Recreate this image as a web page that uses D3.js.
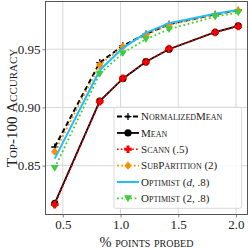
<!DOCTYPE html>
<html><head><meta charset="utf-8">
<script src="https://cdn.jsdelivr.net/npm/d3@7"></script>
<style>
html,body{margin:0;padding:0;background:#fff;}
svg{display:block;}
text{font-family:"Liberation Serif","DejaVu Serif",serif;fill:#222;}
</style></head>
<body>
<svg id="c" width="249" height="249"></svg>
<script>
const xValues = [0.43, 0.82, 1.02, 1.22, 1.42, 1.82, 2.02];
const normalizedMean = [0.866, 0.9385, 0.953, 0.963, 0.9715, 0.980, 0.9835];
const mean = [0.8175, 0.9055, 0.9247, 0.9393, 0.950, 0.9646, 0.970];
const scann = [0.8165, 0.905, 0.925, 0.939, 0.9505, 0.9645, 0.9695];
const subPartition = [0.862, 0.9365, 0.9522, 0.9623, 0.9709, 0.9795, 0.9832];
const optimistD = [0.856, 0.932, 0.951, 0.964, 0.9724, 0.9804, 0.9838];
const optimist2 = [0.848, 0.929, 0.9466, 0.9586, 0.9672, 0.978, 0.9815];
const xTicks = [0.5, 1.0, 1.5, 2.0];
const yTicks = [0.85, 0.90, 0.95];
const seriesNames = ["NormalizedMean", "Mean", "Scann (.5)", "SubPartition (2)", "Optimist (d, .8)", "Optimist (2, .8)"];

const svg = d3.select("#c");
const L = 45.5, R = 247.5, T = 1.5, B = 214.5;
const x = d3.scaleLinear().domain([0.35, 2.10]).range([L, R]);
const y = d3.scaleLinear().domain([0.808, 0.991]).range([B, T]);

// grid
svg.append("g").selectAll("line").data(xTicks).join("line")
  .attr("x1", d => x(d)).attr("x2", d => x(d)).attr("y1", T).attr("y2", B)
  .attr("stroke", "#d8d8d8").attr("stroke-width", 1);
svg.append("g").selectAll("line").data(yTicks).join("line")
  .attr("y1", d => y(d)).attr("y2", d => y(d)).attr("x1", L).attr("x2", R)
  .attr("stroke", "#d8d8d8").attr("stroke-width", 1);

// axes
const xAxis = d3.axisBottom(x).tickValues(xTicks).tickFormat(d3.format(".1f")).tickSize(3).tickPadding(2);
const yAxis = d3.axisLeft(y).tickValues(yTicks).tickFormat(d3.format(".2f")).tickSize(3).tickPadding(2);
const gx = svg.append("g").attr("transform", `translate(0,${B})`).call(xAxis);
const gy = svg.append("g").attr("transform", `translate(${L},0)`).call(yAxis);
[gx, gy].forEach(g => {
  g.select(".domain").remove();
  g.selectAll(".tick line").attr("stroke", "#666").attr("stroke-width", 0.8);
  g.selectAll(".tick text").attr("font-family", "Liberation Serif").attr("font-size", 13).attr("fill", "#222");
});
gx.selectAll(".tick text").attr("dy", "0.72em");

// spines
svg.append("rect").attr("x", L).attr("y", T).attr("width", R - L).attr("height", B - T)
  .attr("fill", "none").attr("stroke", "#555").attr("stroke-width", 1);

// series
const line = d3.line().x((d, i) => x(xValues[i])).y(d => y(d));
const series = [
  {name: seriesNames[0], data: normalizedMean, color: "#000", width: 2, dash: "5,3", marker: "plus"},
  {name: seriesNames[1], data: mean, color: "#000", width: 1.8, dash: null, marker: "circle"},
  {name: seriesNames[2], data: scann, color: "#ff0000", width: 1.6, dash: "1.6,2.2", marker: "P"},
  {name: seriesNames[3], data: subPartition, color: "#ff8c00", width: 1.8, dash: "1.8,2.4", marker: "diamond"},
  {name: seriesNames[4], data: optimistD, color: "#1ebfff", width: 2, dash: null, marker: null},
  {name: seriesNames[5], data: optimist2, color: "#3ccc3c", width: 1.8, dash: "1.8,2.6", marker: "tri"}
];

function drawMarker(g, type, cx, cy, color) {
  if (type === "circle") {
    g.append("circle").attr("cx", cx).attr("cy", cy).attr("r", 3.6).attr("fill", color);
  } else if (type === "P") {
    const a = 3.8, w = 1.5;
    g.append("path").attr("d",
      `M${cx-w},${cy-a}H${cx+w}V${cy-w}H${cx+a}V${cy+w}H${cx+w}V${cy+a}H${cx-w}V${cy+w}H${cx-a}V${cy-w}H${cx-w}Z`)
      .attr("fill", color);
  } else if (type === "plus") {
    const a = 3.5;
    g.append("path").attr("d", `M${cx-a},${cy}H${cx+a}M${cx},${cy-a}V${cy+a}`)
      .attr("stroke", color).attr("stroke-width", 1.3);
  } else if (type === "diamond") {
    const a = 4.2;
    g.append("path").attr("d", `M${cx},${cy-a}L${cx+a*0.85},${cy}L${cx},${cy+a}L${cx-a*0.85},${cy}Z`).attr("fill", color);
  } else if (type === "tri") {
    const a = 4;
    g.append("path").attr("d", `M${cx-a},${cy-a*0.75}L${cx+a},${cy-a*0.75}L${cx},${cy+a*0.95}Z`).attr("fill", color);
  }
}

series.forEach(s => {
  const g = svg.append("g");
  g.append("path").datum(s.data).attr("d", line).attr("fill", "none")
    .attr("stroke", s.color).attr("stroke-width", s.width)
    .attr("stroke-dasharray", s.dash);
  if (s.marker) s.data.forEach((v, i) => drawMarker(g, s.marker, x(xValues[i]), y(v), s.color));
});

// legend
const lg = svg.append("g");
lg.append("rect").attr("x", 114).attr("y", 107.3).attr("width", 127.7).attr("height", 101)
  .attr("rx", 2).attr("fill", "#fff").attr("fill-opacity", 0.85).attr("stroke", "#d0d0d0").attr("stroke-width", 0.8);
const labelParts = [
  [["N",0],["ormalized",1],["M",0],["ean",1]],
  [["M",0],["ean",1]],
  [["S",0],["cann",1],[" (.5)",0]],
  [["S",0],["ub",1],["P",0],["artition",1],[" (2)",0]],
  [["O",0],["ptimist",1],[" (",0],["d",2],[", .8)",0]],
  [["O",0],["ptimist",1],[" (2, .8)",0]]
];
series.forEach((s, i) => {
  const cy = 116.6 + i * 16.35;
  lg.append("line").attr("x1", 117).attr("x2", 139).attr("y1", cy).attr("y2", cy)
    .attr("stroke", s.color).attr("stroke-width", s.width).attr("stroke-dasharray", s.dash);
  if (s.marker) drawMarker(lg, s.marker, 128, cy, s.color);
  const t = lg.append("text").attr("x", 141).attr("y", cy + 3.7).attr("font-size", 11);
  labelParts[i].forEach(([txt, kind]) => {
    const sp = t.append("tspan").text(txt);
    if (kind === 1) sp.style("font-variant", "small-caps");
    if (kind === 2) sp.attr("font-style", "italic");
  });
});

// axis labels
const xl = svg.append("text").attr("x", (L + R) / 2).attr("y", 246.5).attr("text-anchor", "middle").attr("font-size", 14.5);
xl.append("tspan").text("% ");
xl.append("tspan").style("font-variant", "small-caps").text("points probed");

const yl = svg.append("text").attr("transform", `translate(17,${(T + B) / 2}) rotate(-90)`)
  .attr("text-anchor", "middle").attr("font-size", 15);
yl.append("tspan").text("T");
yl.append("tspan").style("font-variant", "small-caps").text("op-100 ");
yl.append("tspan").text("A");
yl.append("tspan").style("font-variant", "small-caps").text("ccuracy");
</script>
</body></html>
